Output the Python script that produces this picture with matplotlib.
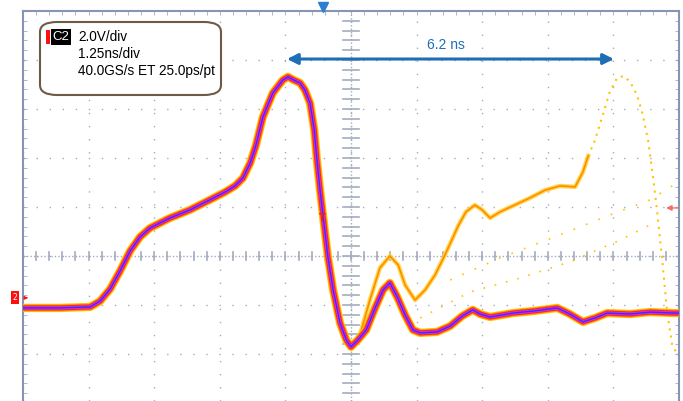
import matplotlib.pyplot as plt
import matplotlib.patches as patches

# scope settings: 1.25 ns/div, 2 V/div
t_main = [0, 0.70, 1.28, 1.47, 1.66, 1.85, 2.04, 2.23, 2.42, 2.80,
          3.18, 3.56, 3.85, 4.04, 4.19, 4.33, 4.44, 4.57, 4.76, 4.95,
          5.05, 5.16, 5.28, 5.37, 5.47, 5.55, 5.60, 5.66, 5.72, 5.81,
          5.91, 6.04, 6.16, 6.25, 6.38, 6.54, 6.71, 6.86, 6.99, 7.13,
          7.28, 7.43, 7.57, 7.89, 8.14, 8.37, 8.57, 8.71, 8.90, 9.34,
          9.76, 10.18, 10.42, 10.67, 10.90, 11.13, 11.57, 11.95, 12.39, 12.5]
v_main = [-2.12, -2.12, -2.08, -1.84, -1.35, -0.61, 0.20, 0.78, 1.14, 1.55,
          1.88, 2.29, 2.61, 2.86, 3.18, 3.80, 4.53, 5.67, 6.65, 7.18,
          7.31, 7.18, 7.06, 6.78, 6.24, 5.14, 3.92, 2.69, 1.59, -0.04,
          -1.39, -2.73, -3.43, -3.71, -3.43, -3.02, -2.12, -1.39, -1.10, -1.67,
          -2.41, -3.02, -3.14, -3.10, -2.86, -2.45, -2.20, -2.37, -2.49, -2.33,
          -2.24, -2.12, -2.37, -2.69, -2.53, -2.33, -2.37, -2.29, -2.33, -2.33]

# second (late) pulse seen in persistence
t_late = [6.25, 6.42, 6.61, 6.80, 6.99, 7.15, 7.28, 7.47, 7.66, 7.85,
          8.04, 8.17, 8.29, 8.44, 8.61, 8.75, 8.90, 9.09, 9.37, 9.66,
          9.95, 10.23, 10.52, 10.67, 10.77]
v_late = [-3.71, -3.22, -1.80, -0.49, 0.00, -0.37, -1.18, -1.80, -1.39, -0.78,
          0.04, 0.65, 1.22, 1.80, 2.08, 1.88, 1.55, 1.80, 2.08, 2.37,
          2.69, 2.86, 2.82, 3.43, 4.08]
t_late_pk = [10.77, 10.90, 11.03, 11.18, 11.32, 11.45, 11.57, 11.70, 11.81,
             11.91, 12.00, 12.08, 12.18, 12.27, 12.37, 12.44]
v_late_pk = [4.08, 4.73, 5.63, 6.69, 7.27, 7.35, 7.10, 6.57, 5.76,
             4.73, 3.31, 1.88, -0.16, -2.20, -3.63, -3.90]
t_ghost1 = [7.57, 8.52, 9.47, 10.42, 11.38, 11.95]
v_ghost1 = [-2.53, -1.47, -0.90, -0.24, 0.65, 1.27]
t_ghost2 = [8.14, 9.09, 10.23, 11.18, 11.95, 12.40]
v_ghost2 = [-0.98, -0.08, 0.86, 1.67, 2.29, 2.90]

fig = plt.figure(figsize=(6.83, 4.01), dpi=100)
ax = fig.add_axes([23 / 683, 0, 656 / 683, 390 / 401])
ax.set_xlim(0, 12.5)
ax.set_ylim(-5.92, 10)

grid_c = '#a3abbd'
for i in range(11):
    ax.axvline(i * 1.25, color=grid_c, lw=1, dashes=(1, 8.4), zorder=0)
for v in range(-4, 10, 2):
    ax.axhline(v, color=grid_c, lw=1, dashes=(1, 8.4), zorder=0)
# center axes with ticks
ax.axhline(0, color=grid_c, lw=1, dashes=(1, 1.5), zorder=0)
ax.axvline(6.25, color=grid_c, lw=1, dashes=(1, 1.5), zorder=0)
for k in range(51):
    ax.plot([k * 0.25] * 2, [-0.15, 0.15], color=grid_c, lw=1.2, zorder=0)
for k in range(-15, 26):
    ax.plot([6.1, 6.4], [k * 0.4] * 2, color=grid_c, lw=1.2, zorder=0)

ax.set_xticks([])
ax.set_yticks([])
ax.set_xticks([k * 0.25 for k in range(51)], minor=True)
ax.set_yticks([k * 0.4 for k in range(-14, 26)], minor=True)
ax.tick_params(which='minor', direction='in', length=3, color=grid_c,
               top=True, right=True, bottom=False, labelbottom=False, labelleft=False)
for s in ['left', 'right', 'top']:
    ax.spines[s].set_color('#8894b4')
    ax.spines[s].set_linewidth(1.5)
ax.spines['bottom'].set_visible(False)

# persistence traces
ax.plot(t_ghost1, v_ghost1, color='#ffc400', lw=1.2, dashes=(1, 6), zorder=2)
ax.plot(t_ghost2, v_ghost2, color='#ffc400', lw=1.2, dashes=(1, 7), zorder=2)
ax.plot(t_late_pk, v_late_pk, color='#ffc400', lw=1.5, dashes=(1, 2.5), zorder=2)
ax.plot(t_late, v_late, color='#ffd030', lw=3.2, alpha=0.85, zorder=2)
ax.plot(t_late, v_late, color='#ff8c00', lw=1.2, zorder=2)

# main trace, colour graded persistence
for c, w in [('#ffc800', 6), ('#ff8c00', 4.8), ('#ff1e1e', 3.6), ('#e028e8', 2.3), ('#3a2cff', 1.0)]:
    ax.plot(t_main, v_main, color=c, lw=w, solid_capstyle='butt', zorder=3)

# trigger markers
ax.plot(5.72, 10.15, marker='v', color='#2a7fd0', markersize=7, clip_on=False, zorder=5)
ax.text(5.70, 1.55, 'T', color='#e02020', fontsize=7, fontweight='bold',
        ha='center', va='center', zorder=5)
ax.annotate('', xy=(12.2, 1.96), xytext=(12.55, 1.96),
            arrowprops=dict(arrowstyle='-|>', color='#f07070', lw=1, mutation_scale=8),
            annotation_clip=False, zorder=5)

# channel 2 ground marker
ax.text(-0.15, -1.71, '2', color='white', fontsize=5.5, ha='center', va='center',
        bbox=dict(boxstyle='square,pad=0.25', fc='#ff1010', ec='none'), clip_on=False)
ax.annotate('', xy=(0.15, -1.71), xytext=(0.0, -1.71),
            arrowprops=dict(arrowstyle='-|>', color='#ff1010', lw=0.8, mutation_scale=5),
            annotation_clip=False)

# 6.2 ns measurement
ax.annotate('', xy=(5.03, 8.04), xytext=(11.26, 8.04),
            arrowprops=dict(arrowstyle='<|-|>', color='#1f6db5', lw=2.2, mutation_scale=16,
                            shrinkA=0, shrinkB=0), zorder=6)
ax.text(8.06, 8.61, '6.2 ns', color='#1f6db5', fontsize=10, fontfamily='Liberation Sans',
        ha='center', va='center', zorder=6)

# settings box
box = patches.FancyBboxPatch((40 / 683, 1 - 95 / 401), 181 / 683, 73 / 401,
                             boxstyle='round,pad=0,rounding_size=0.025',
                             transform=fig.transFigure, fc='white', ec='#6e5a48', lw=1.5, zorder=10)
fig.add_artist(box)
fig.add_artist(patches.Rectangle((46 / 683, 1 - 44 / 401), 4 / 683, 14 / 401,
                                 transform=fig.transFigure, fc='#ff1010', ec='none', zorder=11))
fig.text(61 / 683, 1 - 37 / 401, 'C2', color='white', fontsize=9.5, fontfamily='Liberation Sans',
         ha='center', va='center', zorder=12,
         bbox=dict(boxstyle='square,pad=0.15', fc='black', ec='none'))
for i, line in enumerate(['2.0V/div', '1.25ns/div', '40.0GS/s ET 25.0ps/pt']):
    fig.text(78 / 683, 1 - (37 + 17 * i) / 401, line, fontsize=9.8, fontfamily='Liberation Sans',
             ha='left', va='center', zorder=12)

plt.savefig('out.png', dpi=100)
